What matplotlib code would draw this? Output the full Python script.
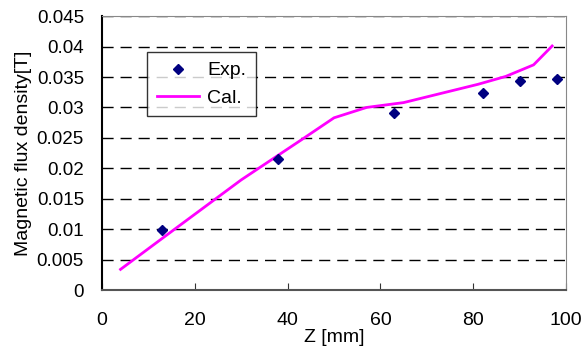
import matplotlib
matplotlib.use("Agg")
import matplotlib.pyplot as plt

plt.rcParams["font.family"] = ["Liberation Sans", "DejaVu Sans"]

# measured points
exp_z = [13, 38, 63, 82, 90, 98]
exp_b = [0.0098, 0.0215, 0.0291, 0.0324, 0.0343, 0.0347]

# calculated curve
cal_z = [4, 13, 30, 43, 50, 57, 65, 81, 87, 93, 97]
cal_b = [0.0034, 0.0085, 0.0181, 0.0247, 0.0283, 0.0300, 0.0308, 0.0338, 0.0351, 0.0370, 0.0401]

x_ticks = [0, 20, 40, 60, 80, 100]
y_ticks = [0, 0.005, 0.01, 0.015, 0.02, 0.025, 0.03, 0.035, 0.04, 0.045]
y_labels = ["0", "0.005", "0.01", "0.015", "0.02", "0.025", "0.03", "0.035", "0.04", "0.045"]

fig = plt.figure(figsize=(5.86, 3.59), dpi=100)
ax = fig.add_axes([0.174, 0.192, 0.792, 0.763])

# dashed grid
for y in y_ticks[1:]:
    ax.axhline(y, color="black", lw=1, ls=(0, (8, 5)), zorder=1)

ax.plot(cal_z, cal_b, color="#ff00ff", lw=2, label="Cal.", zorder=3)
ax.plot(exp_z, exp_b, ls="none", marker="D", ms=5.5, color="#000080", label="Exp.", zorder=4)

ax.set_xlim(0, 100)
ax.set_ylim(0, 0.045)
ax.set_xticks(x_ticks)
ax.set_yticks(y_ticks)
ax.set_yticklabels(y_labels)
ax.tick_params(axis="x", direction="in", length=5, labelsize=14, pad=16, color="#333333")
ax.tick_params(axis="y", length=0, labelsize=13.5, pad=13)

ax.spines["left"].set_color("black")
ax.spines["left"].set_linewidth(1.5)
ax.spines["bottom"].set_color("#555555")
ax.spines["bottom"].set_linewidth(1.5)
ax.spines["top"].set_color("#888888")
ax.spines["right"].set_color("#888888")

ax.set_xlabel("Z [mm]", fontsize=14, labelpad=0)
ax.set_ylabel("Magnetic flux density[T]", fontsize=14, labelpad=3)

handles, labels = ax.get_legend_handles_labels()
leg = ax.legend(handles[::-1], labels[::-1], loc="upper left",
                bbox_to_anchor=(0.097, 0.869), borderaxespad=0, fontsize=14,
                frameon=True, fancybox=False, edgecolor="black", handlelength=2.2,
                borderpad=0.5, labelspacing=0.5, handletextpad=0.4)
leg.get_frame().set_linewidth(1)

fig.savefig("out.png", dpi=100)
